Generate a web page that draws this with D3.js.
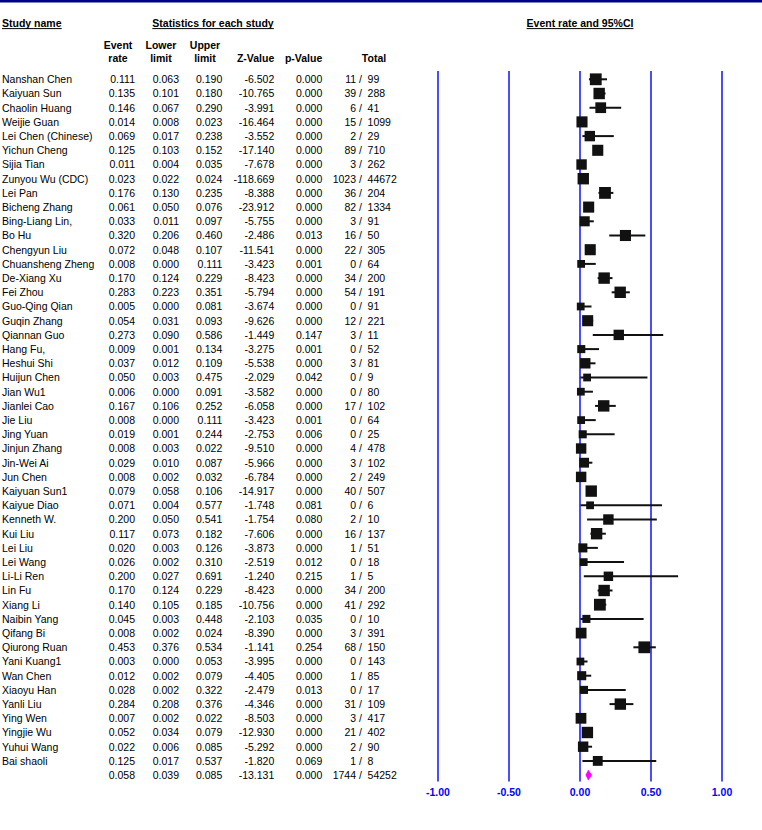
<!DOCTYPE html>
<html>
<head>
<meta charset="utf-8">
<script src="https://cdn.jsdelivr.net/npm/d3@7"></script>
<style>
  body { margin: 0; background: #fff; }
  svg { display: block; font-family: "Liberation Sans", Arial, sans-serif; }
</style>
</head>
<body>
<script>
'use strict';

const names = [
  'Nanshan Chen', 'Kaiyuan Sun', 'Chaolin Huang', 'Weijie Guan', 'Lei Chen (Chinese)',
  'Yichun Cheng', 'Sijia Tian', 'Zunyou Wu (CDC)', 'Lei Pan', 'Bicheng Zhang',
  'Bing-Liang Lin,', 'Bo Hu', 'Chengyun Liu', 'Chuansheng Zheng', 'De-Xiang Xu',
  'Fei Zhou', 'Guo-Qing Qian', 'Guqin Zhang', 'Qiannan Guo', 'Hang Fu,',
  'Heshui Shi', 'Huijun Chen', 'Jian Wu1', 'Jianlei Cao', 'Jie Liu',
  'Jing Yuan', 'Jinjun Zhang', 'Jin-Wei Ai', 'Jun Chen', 'Kaiyuan Sun1',
  'Kaiyue Diao', 'Kenneth W.', 'Kui Liu', 'Lei Liu', 'Lei Wang',
  'Li-Li Ren', 'Lin Fu', 'Xiang Li', 'Naibin Yang', 'Qifang Bi',
  'Qiurong Ruan', 'Yani Kuang1', 'Wan Chen', 'Xiaoyu Han', 'Yanli Liu',
  'Ying Wen', 'Yingjie Wu', 'Yuhui Wang', 'Bai shaoli'
];

const eventRate = [
  0.111, 0.135, 0.146, 0.014, 0.069, 0.125, 0.011, 0.023, 0.176, 0.061,
  0.033, 0.320, 0.072, 0.008, 0.170, 0.283, 0.005, 0.054, 0.273, 0.009,
  0.037, 0.050, 0.006, 0.167, 0.008, 0.019, 0.008, 0.029, 0.008, 0.079,
  0.071, 0.200, 0.117, 0.020, 0.026, 0.200, 0.170, 0.140, 0.045, 0.008,
  0.453, 0.003, 0.012, 0.028, 0.284, 0.007, 0.052, 0.022, 0.125
];

const lowerLimit = [
  0.063, 0.101, 0.067, 0.008, 0.017, 0.103, 0.004, 0.022, 0.130, 0.050,
  0.011, 0.206, 0.048, 0.000, 0.124, 0.223, 0.000, 0.031, 0.090, 0.001,
  0.012, 0.003, 0.000, 0.106, 0.000, 0.001, 0.003, 0.010, 0.002, 0.058,
  0.004, 0.050, 0.073, 0.003, 0.002, 0.027, 0.124, 0.105, 0.003, 0.002,
  0.376, 0.000, 0.002, 0.002, 0.208, 0.002, 0.034, 0.006, 0.017
];

const upperLimit = [
  0.190, 0.180, 0.290, 0.023, 0.238, 0.152, 0.035, 0.024, 0.235, 0.076,
  0.097, 0.460, 0.107, 0.111, 0.229, 0.351, 0.081, 0.093, 0.586, 0.134,
  0.109, 0.475, 0.091, 0.252, 0.111, 0.244, 0.022, 0.087, 0.032, 0.106,
  0.577, 0.541, 0.182, 0.126, 0.310, 0.691, 0.229, 0.185, 0.448, 0.024,
  0.534, 0.053, 0.079, 0.322, 0.376, 0.022, 0.079, 0.085, 0.537
];

const zValue = [
  -6.502, -10.765, -3.991, -16.464, -3.552, -17.140, -7.678, -118.669, -8.388, -23.912,
  -5.755, -2.486, -11.541, -3.423, -8.423, -5.794, -3.674, -9.626, -1.449, -3.275,
  -5.538, -2.029, -3.582, -6.058, -3.423, -2.753, -9.510, -5.966, -6.784, -14.917,
  -1.748, -1.754, -7.606, -3.873, -2.519, -1.240, -8.423, -10.756, -2.103, -8.390,
  -1.141, -3.995, -4.405, -2.479, -4.346, -8.503, -12.930, -5.292, -1.820
];

const pValue = [
  0.000, 0.000, 0.000, 0.000, 0.000, 0.000, 0.000, 0.000, 0.000, 0.000,
  0.000, 0.013, 0.000, 0.001, 0.000, 0.000, 0.000, 0.000, 0.147, 0.001,
  0.000, 0.042, 0.000, 0.000, 0.001, 0.006, 0.000, 0.000, 0.000, 0.000,
  0.081, 0.080, 0.000, 0.000, 0.012, 0.215, 0.000, 0.000, 0.035, 0.000,
  0.254, 0.000, 0.000, 0.013, 0.000, 0.000, 0.000, 0.000, 0.069
];

const events = [
  11, 39, 6, 15, 2, 89, 3, 1023, 36, 82,
  3, 16, 22, 0, 34, 54, 0, 12, 3, 0,
  3, 0, 0, 17, 0, 0, 4, 3, 2, 40,
  0, 2, 16, 1, 0, 1, 34, 41, 0, 3,
  68, 0, 1, 0, 31, 3, 21, 2, 1
];

const totals = [
  99, 288, 41, 1099, 29, 710, 262, 44672, 204, 1334,
  91, 50, 305, 64, 200, 191, 91, 221, 11, 52,
  81, 9, 80, 102, 64, 25, 478, 102, 249, 507,
  6, 10, 137, 51, 18, 5, 200, 292, 10, 391,
  150, 143, 85, 17, 109, 417, 402, 90, 8
];

// relative weights (%)
const weights = [
  2.95, 2.75, 2.45, 2.60, 2.30, 2.60, 2.30, 2.75, 2.95, 2.60,
  2.15, 2.60, 2.60, 1.28, 2.75, 2.75, 1.28, 2.60, 2.30, 1.38,
  2.30, 1.28, 1.28, 2.75, 1.28, 1.38, 2.30, 2.05, 2.30, 2.75,
  1.28, 2.30, 2.75, 1.75, 1.28, 1.90, 2.75, 2.95, 1.38, 2.45,
  2.95, 1.28, 1.75, 1.38, 2.75, 2.45, 2.75, 2.30, 2.05
];

const pooled = [0.058, 0.039, 0.085, -13.131, 0.000];
const pooledEvents = 1744;
const pooledTotal  = 54252;

const xTicks = [-1, -0.5, 0, 0.5, 1];

const width  = 762;
const height = 830;
const blue   = '#0000ff';
const font   = 10.5;

const svg = d3.select('body')
  .append('svg')
  .attr('width', width)
  .attr('height', height);

const x = d3.scaleLinear().domain([-1, 1]).range([438, 722]);
const rowY = d3.scaleLinear().domain([0, names.length]).range([79.3, 79.3 + 14.2 * names.length]);
const side = d3.scaleSqrt().domain([0, 3]).range([0, 11.9]);
const f3 = d3.format('.3f');
const dy = 3.8;

svg.append('rect')
   .attr('x', 0).attr('y', 0)
   .attr('width', width).attr('height', 2.5)
   .attr('fill', '#000088');

// column headers
function bold(txt, xPos, yPos, anchor) {
  return svg.append('text')
    .attr('x', xPos).attr('y', yPos)
    .attr('text-anchor', anchor)
    .attr('font-size', font)
    .attr('font-weight', 'bold')
    .attr('fill', '#000')
    .text(txt);
}

function underlined(txt, xPos, yPos, anchor) {
  const t = bold(txt, xPos, yPos, anchor);
  const bb = t.node().getBBox();
  svg.append('line')
     .attr('x1', bb.x).attr('x2', bb.x + bb.width)
     .attr('y1', yPos + 1.6).attr('y2', yPos + 1.6)
     .attr('stroke', '#000').attr('stroke-width', 1);
}

underlined('Study name', 2, 27, 'start');
underlined('Statistics for each study', 213, 27, 'middle');
underlined('Event rate and 95%CI', x(0), 27, 'middle');

const cols = [
  { top: 'Event', bottom: 'rate',  x: 118,   anchor: 'middle' },
  { top: 'Lower', bottom: 'limit', x: 161,   anchor: 'middle' },
  { top: 'Upper', bottom: 'limit', x: 205,   anchor: 'middle' },
  { top: '',      bottom: 'Z-Value', x: 274.3, anchor: 'end' },
  { top: '',      bottom: 'p-Value', x: 322.3, anchor: 'end' },
  { top: '',      bottom: 'Total', x: 374,   anchor: 'middle' }
];
cols.forEach((c) => {
  if (c.top) bold(c.top, c.x, 48.5, c.anchor);
  bold(c.bottom, c.x, 61.5, c.anchor);
});

// table rows
const rows = names.map((n, i) => ({
  name: n,
  vals: [eventRate[i], lowerLimit[i], upperLimit[i], zValue[i], pValue[i]],
  ev: events[i], tot: totals[i], w: weights[i], i: i
}));
rows.push({ name: '', vals: pooled, ev: pooledEvents, tot: pooledTotal, i: names.length });

const valX = [135, 179, 222.3, 274.3, 322.3];
const slashX = 363.3;

const g = svg.append('g')
  .attr('font-size', font)
  .attr('fill', '#000');

const row = g.selectAll('g.row')
  .data(rows)
  .enter()
  .append('g')
  .attr('class', 'row')
  .attr('transform', (d) => 'translate(0,' + (rowY(d.i) + dy) + ')');

row.append('text')
   .attr('x', 2)
   .text((d) => d.name);

valX.forEach((vx, k) => {
  row.append('text')
     .attr('x', vx)
     .attr('text-anchor', 'end')
     .text((d) => f3(d.vals[k]).replace('\u2212', '-'));
});

row.append('text')
   .attr('x', slashX - 1.4)
   .attr('text-anchor', 'end')
   .text((d) => d.ev + ' /');
row.append('text')
   .attr('x', slashX + 4.3)
   .text((d) => d.tot);

// forest plot
const plot = svg.append('g');

plot.selectAll('line.grid')
  .data(xTicks)
  .enter()
  .append('line')
  .attr('class', 'grid')
  .attr('x1', (d) => x(d)).attr('x2', (d) => x(d))
  .attr('y1', 71).attr('y2', 781.5)
  .attr('stroke', blue)
  .attr('stroke-width', 1.4);

plot.selectAll('text.tick')
  .data(xTicks)
  .enter()
  .append('text')
  .attr('class', 'tick')
  .attr('x', (d) => x(d))
  .attr('y', 795.5)
  .attr('text-anchor', 'middle')
  .attr('font-size', font)
  .attr('font-weight', 'bold')
  .attr('fill', blue)
  .text((d) => d3.format('.2f')(d).replace('\u2212', '-'));

const studies = rows.slice(0, names.length);

plot.selectAll('line.ci')
  .data(studies)
  .enter()
  .append('line')
  .attr('class', 'ci')
  .attr('x1', (d) => x(d.vals[1])).attr('x2', (d) => x(d.vals[2]))
  .attr('y1', (d) => rowY(d.i)).attr('y2', (d) => rowY(d.i))
  .attr('stroke', '#111')
  .attr('stroke-width', 2);

plot.selectAll('rect.box')
  .data(studies)
  .enter()
  .append('rect')
  .attr('class', 'box')
  .attr('x', (d) => x(d.vals[0]) - side(d.w) / 2)
  .attr('y', (d) => rowY(d.i) - side(d.w) / 2)
  .attr('width', (d) => side(d.w))
  .attr('height', (d) => side(d.w))
  .attr('fill', '#111');

const sy = rowY(names.length);
plot.append('path')
  .attr('d', d3.line()([
    [x(pooled[1]), sy],
    [x(pooled[0]), sy - 5.3],
    [x(pooled[2]), sy],
    [x(pooled[0]), sy + 5.3]
  ]) + 'Z')
  .attr('fill', '#ff00ff');
</script>
</body>
</html>
